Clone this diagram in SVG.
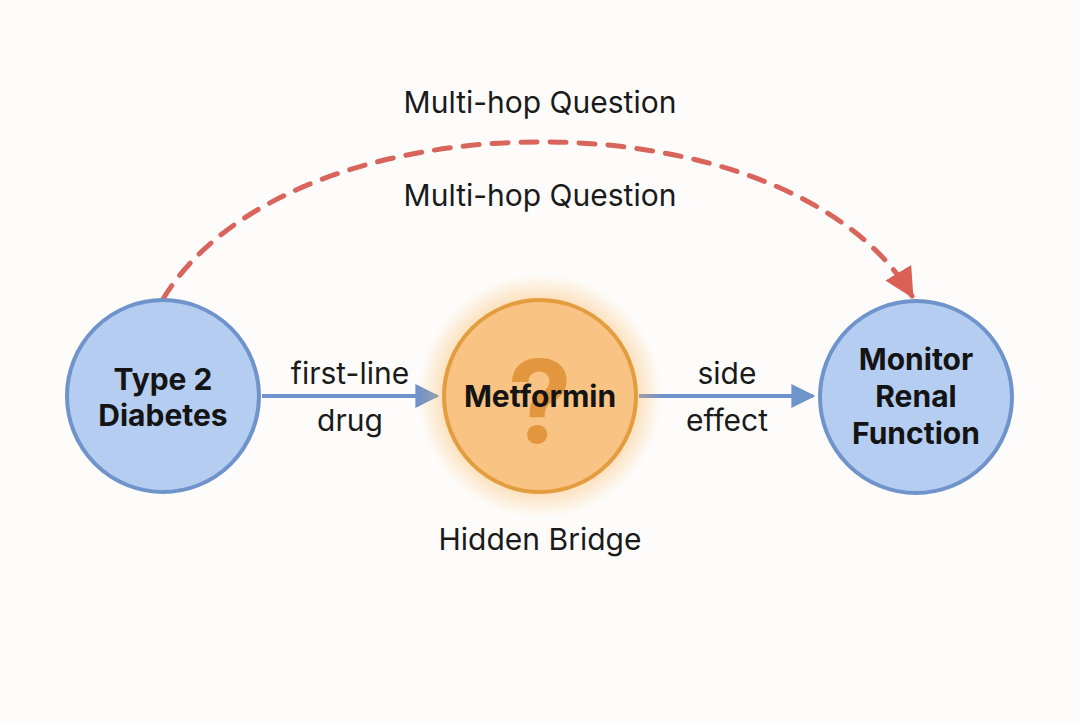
<svg xmlns="http://www.w3.org/2000/svg" width="1080" height="725" viewBox="0 0 1080 725">
<defs>
<style>
.lbl{font-family:Inter,"Liberation Sans",sans-serif;font-size:30px;fill:#1a1a1a;text-anchor:middle}
.node{font-family:Inter,"Liberation Sans",sans-serif;font-size:30px;font-weight:700;fill:#141414;text-anchor:middle}
.blue{fill:#b5cdf1;stroke:#6f93cb;stroke-width:4}
.edge{stroke:#6f93cb;stroke-width:4;fill:none}
</style>
<marker id="ab" viewBox="0 0 10 10" refX="9" refY="5" markerWidth="6" markerHeight="6" markerUnits="strokeWidth" orient="auto">
<path d="M0,0 L10,5 L0,10 z" fill="#6f93cb"/>
</marker>
<marker id="ar" viewBox="0 0 10 10" refX="9" refY="5" markerWidth="6" markerHeight="6" markerUnits="strokeWidth" orient="auto">
<path d="M0,0 L10,5 L0,10 z" fill="#dc5f55"/>
</marker>
<radialGradient id="glow" cx="0.5" cy="0.5" r="0.5">
<stop offset="0.7" stop-color="#fbb45c" stop-opacity="0.55"/>
<stop offset="1" stop-color="#fbb45c" stop-opacity="0"/>
</radialGradient>
</defs>
<rect width="1080" height="725" fill="#fdfcfa"/>
<g id="connectors">
<path class="edge" d="M262,396 L437,396" marker-end="url(#ab)"/>
<path class="edge" d="M639,396 L813,396" marker-end="url(#ab)"/>
<path d="M163,299 C290,90 790,90 912,296" fill="none" stroke="#d9645c" stroke-width="5" stroke-dasharray="16,13" stroke-linecap="round" marker-end="url(#ar)"/>
</g>
<g id="labels">
<text class="lbl" x="540" y="113">Multi-hop Question</text>
<text class="lbl" x="540" y="206">Multi-hop Question</text>
<text class="lbl" x="350" y="384">first-line</text>
<text class="lbl" x="350" y="431">drug</text>
<text class="lbl" x="727" y="384">side</text>
<text class="lbl" x="727" y="431">effect</text>
<text class="lbl" x="540" y="550">Hidden Bridge</text>
</g>
<g id="node-type2">
<circle class="blue" cx="163" cy="396" r="96"/>
<text class="node" x="163" y="390">Type 2</text>
<text class="node" x="163" y="426">Diabetes</text>
</g>
<g id="node-metformin">
<circle cx="540" cy="396" r="122" fill="url(#glow)"/>
<circle cx="540" cy="396" r="96" fill="#f9c384" stroke="#e39d3e" stroke-width="4"/>
<text x="540" y="443" font-family="Inter,'Liberation Sans',sans-serif" font-size="115" font-weight="700" fill="#de8f32" fill-opacity="0.85" text-anchor="middle">?</text>
<text class="node" x="540" y="407">Metformin</text>
</g>
<g id="node-renal">
<circle class="blue" cx="916" cy="397" r="96"/>
<text class="node" x="916" y="370">Monitor</text>
<text class="node" x="916" y="407">Renal</text>
<text class="node" x="916" y="444">Function</text>
</g>
</svg>
